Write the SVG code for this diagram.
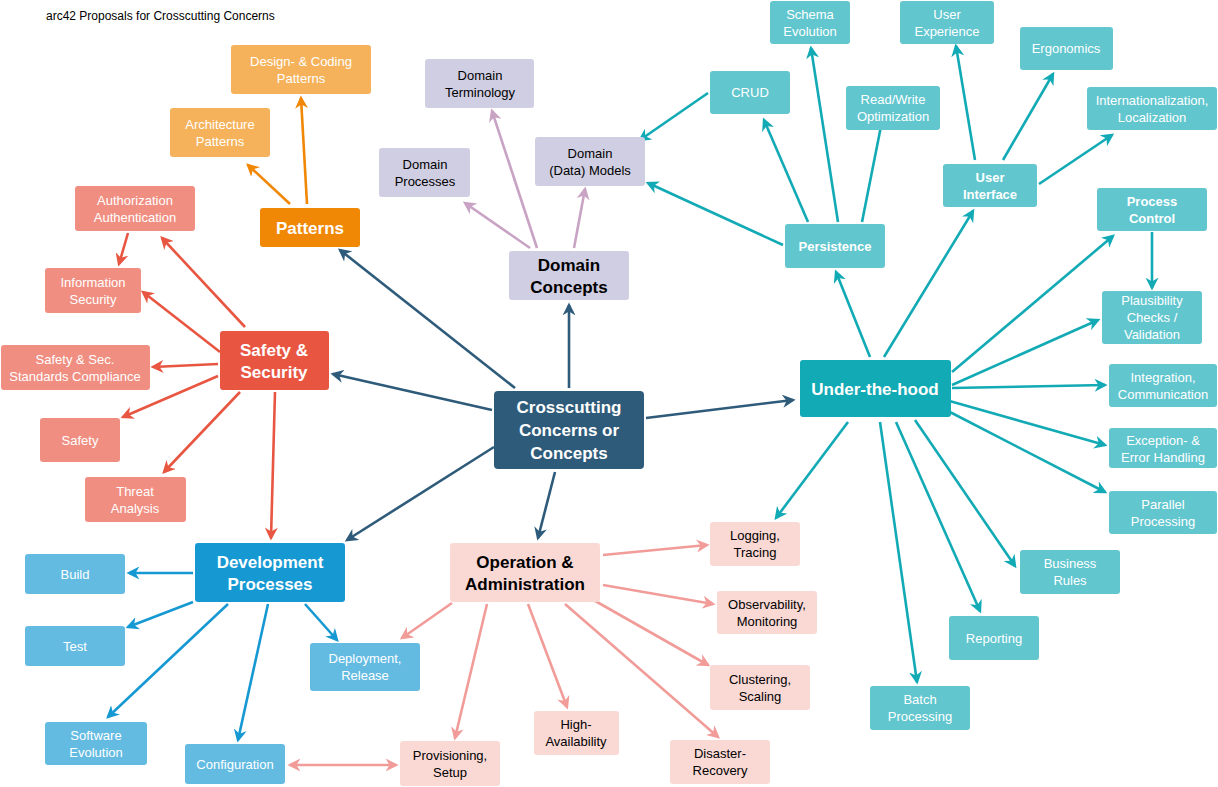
<svg xmlns="http://www.w3.org/2000/svg" width="1218" height="787" viewBox="0 0 1218 787">
<style>
text{font-family:"Liberation Sans",Arial,sans-serif;text-anchor:middle;font-size:13px;fill:#fff}
.b{font-weight:bold;font-size:17px}
.s{font-weight:bold}
.k{fill:#000}
.e line{stroke-width:2.6;fill:none}
.c0{stroke:#2f5b7a}.c1{stroke:#f08705}.c2{stroke:#c9a3c4}.c3{stroke:#e85642}.c4{stroke:#12aab5}.c5{stroke:#1699d3}.c6{stroke:#f19c99}
</style>
<defs>
<marker id="m0" viewBox="0 0 10 10" refX="8" refY="5" markerWidth="5" markerHeight="5" orient="auto"><path d="M0,0L10,5L0,10L3,5z" fill="#2f5b7a"/></marker>
<marker id="m1" viewBox="0 0 10 10" refX="8" refY="5" markerWidth="5" markerHeight="5" orient="auto"><path d="M0,0L10,5L0,10L3,5z" fill="#f08705"/></marker>
<marker id="m2" viewBox="0 0 10 10" refX="8" refY="5" markerWidth="5" markerHeight="5" orient="auto"><path d="M0,0L10,5L0,10L3,5z" fill="#c9a3c4"/></marker>
<marker id="m3" viewBox="0 0 10 10" refX="8" refY="5" markerWidth="5" markerHeight="5" orient="auto"><path d="M0,0L10,5L0,10L3,5z" fill="#e85642"/></marker>
<marker id="m4" viewBox="0 0 10 10" refX="8" refY="5" markerWidth="5" markerHeight="5" orient="auto"><path d="M0,0L10,5L0,10L3,5z" fill="#12aab5"/></marker>
<marker id="m5" viewBox="0 0 10 10" refX="8" refY="5" markerWidth="5" markerHeight="5" orient="auto"><path d="M0,0L10,5L0,10L3,5z" fill="#1699d3"/></marker>
<marker id="m6" viewBox="0 0 10 10" refX="8" refY="5" markerWidth="5" markerHeight="5" orient="auto-start-reverse"><path d="M0,0L10,5L0,10L3,5z" fill="#f19c99"/></marker>
</defs>
<rect width="1218" height="787" fill="#fff"/>
<text x="46" y="20" class="k" style="text-anchor:start;font-size:12px">arc42 Proposals for Crosscutting Concerns</text>
<g id="connectors" class="e">
<g class="c0" marker-end="url(#m0)">
<line x1="569" y1="388" x2="569" y2="305"/><line x1="515" y1="388" x2="340" y2="250"/><line x1="492" y1="410" x2="333" y2="374"/><line x1="646" y1="418" x2="793" y2="400"/><line x1="494" y1="447" x2="347" y2="540"/><line x1="555" y1="472" x2="538" y2="538"/>
</g>
<g class="c1" marker-end="url(#m1)"><line x1="290" y1="204" x2="248" y2="165"/><line x1="307" y1="204" x2="301" y2="98"/></g>
<g class="c2" marker-end="url(#m2)"><line x1="537" y1="248" x2="492" y2="111"/><line x1="530" y1="248" x2="465" y2="203"/><line x1="574" y1="248" x2="585" y2="189"/></g>
<g class="c3" marker-end="url(#m3)">
<line x1="245" y1="327" x2="162" y2="238"/><line x1="220" y1="352" x2="143" y2="292"/><line x1="218" y1="364" x2="153" y2="367"/><line x1="218" y1="376" x2="123" y2="417"/><line x1="240" y1="392" x2="164" y2="472"/><line x1="275" y1="392" x2="271" y2="538"/><line x1="128" y1="233" x2="119" y2="264"/>
</g>
<g class="c4" marker-end="url(#m4)">
<line x1="708" y1="93" x2="640" y2="140"/><line x1="783" y1="245" x2="648" y2="183"/>
<line x1="870" y1="357" x2="836" y2="272"/><line x1="884" y1="357" x2="973" y2="211"/><line x1="952" y1="372" x2="1113" y2="236"/><line x1="952" y1="385" x2="1098" y2="320"/><line x1="952" y1="388" x2="1105" y2="385"/><line x1="946" y1="400" x2="1105" y2="445"/><line x1="946" y1="410" x2="1105" y2="492"/><line x1="915" y1="420" x2="1015" y2="566"/><line x1="896" y1="422" x2="980" y2="611"/><line x1="880" y1="422" x2="917" y2="682"/><line x1="848" y1="422" x2="776" y2="518"/>
<line x1="808" y1="222" x2="764" y2="120"/><line x1="838" y1="222" x2="811" y2="48"/><line x1="862" y1="222" x2="885" y2="106"/>
<line x1="975" y1="160" x2="956" y2="46"/><line x1="1003" y1="160" x2="1053" y2="74"/><line x1="1039" y1="184" x2="1112" y2="135"/><line x1="1152" y1="232" x2="1152" y2="288"/>
</g>
<g class="c5" marker-end="url(#m5)">
<line x1="193" y1="573" x2="129" y2="573"/><line x1="193" y1="602" x2="128" y2="627"/><line x1="228" y1="604" x2="108" y2="717"/><line x1="268" y1="604" x2="238" y2="740"/><line x1="305" y1="604" x2="337" y2="640"/>
</g>
<g class="c6" marker-end="url(#m6)">
<line x1="290" y1="765" x2="396" y2="765" marker-start="url(#m6)"/>
<line x1="603" y1="555" x2="707" y2="545"/><line x1="603" y1="585" x2="713" y2="604"/><line x1="590" y1="598" x2="708" y2="665"/><line x1="565" y1="604" x2="718" y2="737"/><line x1="528" y1="604" x2="567" y2="707"/><line x1="487" y1="604" x2="455" y2="738"/><line x1="452" y1="603" x2="402" y2="638"/>
</g>
</g>
<g id="center"><rect x="494" y="391" width="150" height="78" rx="4" fill="#2f5b7a"/><text class="b" x="569" y="413">Crosscutting</text><text class="b" x="569" y="436">Concerns or</text><text class="b" x="569" y="459">Concepts</text></g>
<g id="domain"><rect x="509" y="251" width="120" height="49" rx="3" fill="#d0cee2"/><text class="b k" x="569" y="271">Domain</text><text class="b k" x="569" y="293">Concepts</text></g>
<g id="patterns"><rect x="260" y="208" width="100" height="39" rx="3" fill="#f08705"/><text class="b" x="310" y="234">Patterns</text></g>
<g id="safety"><rect x="220" y="331" width="109" height="59" rx="3" fill="#e85642"/><text class="b" x="274" y="356">Safety &amp;</text><text class="b" x="274" y="378">Security</text></g>
<g id="under"><rect x="800" y="360" width="151" height="57" rx="3" fill="#12aab5"/><text class="b" x="875" y="395">Under-the-hood</text></g>
<g id="dev"><rect x="195" y="543" width="150" height="59" rx="3" fill="#1699d3"/><text class="b" x="270" y="568">Development</text><text class="b" x="270" y="590">Processes</text></g>
<g id="ops"><rect x="450" y="543" width="150" height="59" rx="3" fill="#fad9d5"/><text class="b k" x="525" y="568">Operation &amp;</text><text class="b k" x="525" y="590">Administration</text></g>

<g id="design"><rect x="231" y="45" width="140" height="49" rx="3" fill="#f5b25a"/><text x="301" y="66">Design- &amp; Coding</text><text x="301" y="83">Patterns</text></g>
<g id="arch"><rect x="170" y="108" width="100" height="49" rx="3" fill="#f5b25a"/><text x="220" y="129">Architecture</text><text x="220" y="146">Patterns</text></g>
<g id="dterm"><rect x="425" y="59" width="109" height="49" rx="3" fill="#d0cee2"/><text class="k" x="480" y="80">Domain</text><text class="k" x="480" y="97">Terminology</text></g>
<g id="dproc"><rect x="379" y="148" width="91" height="49" rx="3" fill="#d0cee2"/><text class="k" x="425" y="169">Domain</text><text class="k" x="425" y="186">Processes</text></g>
<g id="dmodel"><rect x="535" y="137" width="110" height="49" rx="3" fill="#d0cee2"/><text class="k" x="590" y="158">Domain</text><text class="k" x="590" y="175">(Data) Models</text></g>

<g id="auth"><rect x="75" y="186" width="120" height="45" rx="3" fill="#f08e81"/><text x="135" y="205">Authorization</text><text x="135" y="222">Authentication</text></g>
<g id="infosec"><rect x="45" y="268" width="96" height="45" rx="3" fill="#f08e81"/><text x="93" y="287">Information</text><text x="93" y="304">Security</text></g>
<g id="compl"><rect x="1" y="345" width="149" height="45" rx="3" fill="#f08e81"/><text x="75" y="364">Safety &amp; Sec.</text><text x="75" y="381">Standards Compliance</text></g>
<g id="safe"><rect x="40" y="418" width="80" height="44" rx="3" fill="#f08e81"/><text x="80" y="445">Safety</text></g>
<g id="threat"><rect x="85" y="477" width="101" height="45" rx="3" fill="#f08e81"/><text x="135" y="496">Threat</text><text x="135" y="513">Analysis</text></g>

<g id="persist"><rect x="785" y="224" width="100" height="44" rx="3" fill="#61c6ce"/><text class="s" x="835" y="251">Persistence</text></g>
<g id="crud"><rect x="710" y="71" width="80" height="43" rx="3" fill="#61c6ce"/><text x="750" y="97">CRUD</text></g>
<g id="schema"><rect x="770" y="1" width="80" height="43" rx="3" fill="#61c6ce"/><text x="810" y="19">Schema</text><text x="810" y="36">Evolution</text></g>
<g id="rw"><rect x="846" y="86" width="94" height="44" rx="3" fill="#61c6ce"/><text x="893" y="104">Read/Write</text><text x="893" y="121">Optimization</text></g>
<g id="ui"><rect x="943" y="164" width="94" height="43" rx="3" fill="#61c6ce"/><text class="s" x="990" y="182">User</text><text class="s" x="990" y="199">Interface</text></g>
<g id="ux"><rect x="900" y="1" width="94" height="43" rx="3" fill="#61c6ce"/><text x="947" y="19">User</text><text x="947" y="36">Experience</text></g>
<g id="ergo"><rect x="1020" y="27" width="93" height="43" rx="3" fill="#61c6ce"/><text x="1066" y="53">Ergonomics</text></g>
<g id="i18n"><rect x="1087" y="87" width="130" height="43" rx="3" fill="#61c6ce"/><text x="1152" y="105">Internationalization,</text><text x="1152" y="122">Localization</text></g>
<g id="pctrl"><rect x="1097" y="188" width="110" height="43" rx="3" fill="#61c6ce"/><text class="s" x="1152" y="206">Process</text><text class="s" x="1152" y="223">Control</text></g>
<g id="plaus"><rect x="1102" y="291" width="100" height="53" rx="3" fill="#61c6ce"/><text x="1152" y="305">Plausibility</text><text x="1152" y="322">Checks /</text><text x="1152" y="339">Validation</text></g>
<g id="integ"><rect x="1109" y="364" width="108" height="43" rx="3" fill="#61c6ce"/><text x="1163" y="382">Integration,</text><text x="1163" y="399">Communication</text></g>
<g id="exc"><rect x="1109" y="428" width="108" height="40" rx="3" fill="#61c6ce"/><text x="1163" y="445">Exception- &amp;</text><text x="1163" y="462">Error Handling</text></g>
<g id="par"><rect x="1109" y="491" width="108" height="43" rx="3" fill="#61c6ce"/><text x="1163" y="509">Parallel</text><text x="1163" y="526">Processing</text></g>
<g id="brules"><rect x="1020" y="550" width="100" height="44" rx="3" fill="#61c6ce"/><text x="1070" y="568">Business</text><text x="1070" y="585">Rules</text></g>
<g id="report"><rect x="949" y="616" width="90" height="44" rx="3" fill="#61c6ce"/><text x="994" y="643">Reporting</text></g>
<g id="batch"><rect x="870" y="686" width="100" height="44" rx="3" fill="#61c6ce"/><text x="920" y="704">Batch</text><text x="920" y="721">Processing</text></g>

<g id="logging"><rect x="710" y="522" width="90" height="44" rx="3" fill="#fad9d5"/><text class="k" x="755" y="540">Logging,</text><text class="k" x="755" y="557">Tracing</text></g>
<g id="observ"><rect x="717" y="591" width="100" height="43" rx="3" fill="#fad9d5"/><text class="k" x="767" y="609">Observability,</text><text class="k" x="767" y="626">Monitoring</text></g>
<g id="cluster"><rect x="710" y="665" width="100" height="45" rx="3" fill="#fad9d5"/><text class="k" x="760" y="684">Clustering,</text><text class="k" x="760" y="701">Scaling</text></g>
<g id="disaster"><rect x="670" y="740" width="100" height="44" rx="3" fill="#fad9d5"/><text class="k" x="720" y="758">Disaster-</text><text class="k" x="720" y="775">Recovery</text></g>
<g id="ha"><rect x="534" y="711" width="85" height="44" rx="3" fill="#fad9d5"/><text class="k" x="576" y="729">High-</text><text class="k" x="576" y="746">Availability</text></g>
<g id="prov"><rect x="400" y="741" width="100" height="45" rx="3" fill="#fad9d5"/><text class="k" x="450" y="760">Provisioning,</text><text class="k" x="450" y="777">Setup</text></g>

<g id="deploy"><rect x="310" y="643" width="110" height="48" rx="3" fill="#64bbe2"/><text x="365" y="663">Deployment,</text><text x="365" y="680">Release</text></g>
<g id="build"><rect x="25" y="554" width="100" height="40" rx="3" fill="#64bbe2"/><text x="75" y="579">Build</text></g>
<g id="test"><rect x="25" y="626" width="100" height="40" rx="3" fill="#64bbe2"/><text x="75" y="651">Test</text></g>
<g id="swevo"><rect x="45" y="722" width="102" height="43" rx="3" fill="#64bbe2"/><text x="96" y="740">Software</text><text x="96" y="757">Evolution</text></g>
<g id="config"><rect x="185" y="744" width="100" height="40" rx="3" fill="#64bbe2"/><text x="235" y="769">Configuration</text></g>
</svg>
